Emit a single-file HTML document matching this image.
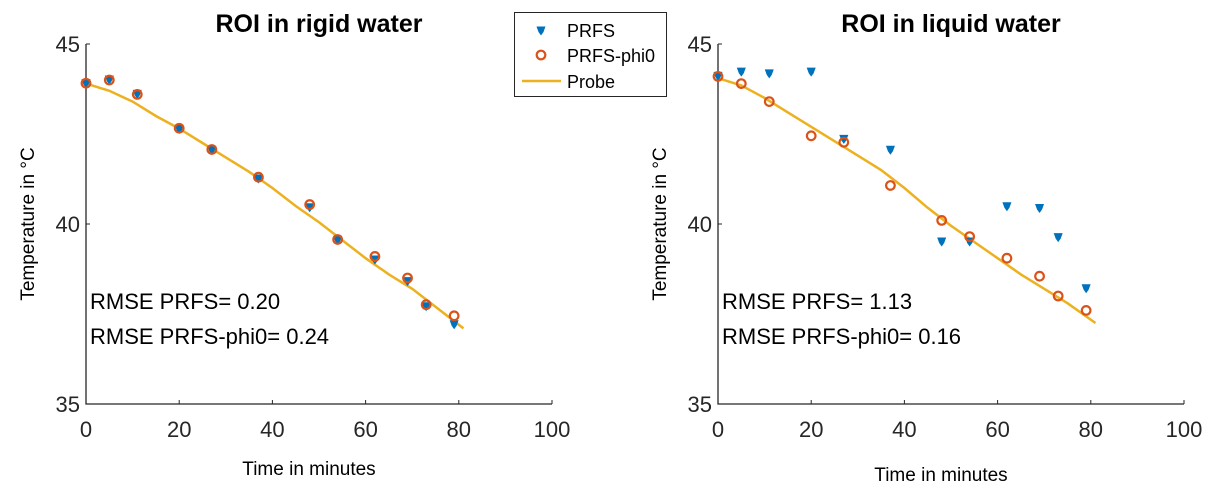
<!DOCTYPE html>
<html><head><meta charset="utf-8"><style>
body{margin:0;background:#fff;}
svg{display:block;font-family:"Liberation Sans",Arial,sans-serif;}
</style></head><body>
<svg id="c" width="1215" height="492"></svg>
<script>
const xTicks=[0,20,40,60,80,100];
const yTicks=[35,40,45];
const tL=[0,5,11,20,27,37,48,54,62,69,73,79];
const prfsL=[43.9,44.0,43.6,42.63,42.05,41.25,40.45,39.55,39.0,38.4,37.7,37.2];
const phiL=[43.91,44.0,43.6,42.66,42.07,41.3,40.54,39.57,39.1,38.5,37.76,37.45];
const tR=[0,5,11,20,27,37,48,54,62,69,73,79];
const prfsR=[44.1,44.22,44.17,44.22,42.35,42.05,39.5,39.5,40.48,40.43,39.62,38.2];
const phiR=[44.1,43.9,43.4,42.45,42.27,41.07,40.1,39.65,39.05,38.55,38.0,37.6];
const probeT=[0,5,10,15,20,25,30,35,40,45,50,55,60,65,70,75,81];
const probeL=[43.9,43.7,43.4,43.0,42.65,42.25,41.85,41.45,41.0,40.5,40.05,39.55,39.05,38.6,38.2,37.7,37.1];
const probeR=[44.05,43.85,43.5,43.1,42.7,42.3,41.9,41.5,41.0,40.45,39.95,39.5,39.05,38.6,38.2,37.8,37.25];
const NS="http://www.w3.org/2000/svg";
const svg=document.getElementById('c');
function el(tag,attrs,parent){const e=document.createElementNS(NS,tag);for(const k in attrs)e.setAttribute(k,attrs[k]);(parent||svg).appendChild(e);return e;}
function panel(name,x0,x1,title,t,prfs,phi,probe,r1,r2,yl){
  const y0=404,y1=44;
  const sx=v=>x0+(v-0)/100*(x1-x0);
  const sy=v=>y0-(v-35)/10*(y0-y1);
  const g=el('g',{});
  
  
  const ax=el('path',{d:`M${x0},${y1}V${y0}H${x1}`,stroke:'#262626','stroke-width':1.3,fill:'none'},g);
  
  
  xTicks.forEach(v=>{
    el('line',{x1:sx(v),x2:sx(v),y1:y0,y2:y0-4,stroke:'#262626'},g);
    const tx=el('text',{x:sx(v),y:y0+33,'text-anchor':'middle','font-size':22,fill:'#262626'},g);
    tx.textContent=v;
    
    
  });
  yTicks.forEach(v=>{
    el('line',{x1:x0,x2:x0+4,y1:sy(v),y2:sy(v),stroke:'#262626'},g);
    const tx=el('text',{x:x0-6,y:sy(v)+8,'text-anchor':'end','font-size':22,fill:'#262626'},g);
    tx.textContent=v;
    
    
  });
  const tt=el('text',{x:(x0+x1)/2,y:32,'text-anchor':'middle','font-size':25,'font-weight':'bold',fill:'#000'},g);
  tt.textContent=title;
  
  
  const xl=el('text',{x:(x0+x1)/2-10,y:yl,'text-anchor':'middle','font-size':19,fill:'#000'},g);
  xl.textContent='Time in minutes';
  
  
  const yx=x0-52;
  const ylab=el('text',{x:yx,y:224,transform:`rotate(-90 ${yx} 224)`,'text-anchor':'middle','font-size':19,fill:'#000'},g);
  ylab.textContent='Temperature in °C';
  
  
  const pl=el('polyline',{points:probeT.map((v,i)=>sx(v)+','+sy(probe[i])).join(' '),stroke:'#EDB120','stroke-width':2.5,fill:'none'},g);
  
  
  t.forEach((v,i)=>{
    const cx=sx(v),cy=sy(prfs[i]);
    const m=el('path',{d:`M${cx-4.5},${cy-4.5}H${cx+4.5}L${cx+2.5},${cy+1}L${cx},${cy+4.5}L${cx-2.5},${cy+1}Z`,fill:'#0072BD'},g);
    
    
  });
  t.forEach((v,i)=>{
    const c=el('circle',{cx:sx(v),cy:sy(phi[i]),r:4.3,fill:'none',stroke:'#D95319','stroke-width':2.2},g);
    
    
  });
  const a1=el('text',{x:x0+4,y:309,'font-size':22,fill:'#000'},g);
  a1.textContent=r1;
  
  
  const a2=el('text',{x:x0+4,y:344,'font-size':22,fill:'#000'},g);
  a2.textContent=r2;
  
  
}
panel('left-panel',86,552,'ROI in rigid water',tL,prfsL,phiL,probeL,'RMSE PRFS= 0.20','RMSE PRFS-phi0= 0.24',475);
panel('right-panel',718,1184,'ROI in liquid water',tR,prfsR,phiR,probeR,'RMSE PRFS= 1.13','RMSE PRFS-phi0= 0.16',481);
const lg=el('g',{});


el('rect',{x:514.5,y:12.5,width:152,height:84,fill:'#fff',stroke:'#262626','stroke-width':1},lg);
el('path',{d:'M536.5,26.5H545.5L543.5,32L541,35.5L538.5,32Z',fill:'#0072BD'},lg);
el('circle',{cx:541,cy:55,r:4.3,fill:'none',stroke:'#D95319','stroke-width':2.2},lg);
el('line',{x1:522,x2:561,y1:81,y2:81,stroke:'#EDB120','stroke-width':2.5},lg);
[['PRFS',37],['PRFS-phi0',62],['Probe',88]].forEach(([s,y])=>{
  const t=el('text',{x:567,y:y,'font-size':18,fill:'#000'},lg);
  t.textContent=s;
  
  
});
</script>
</body></html>
